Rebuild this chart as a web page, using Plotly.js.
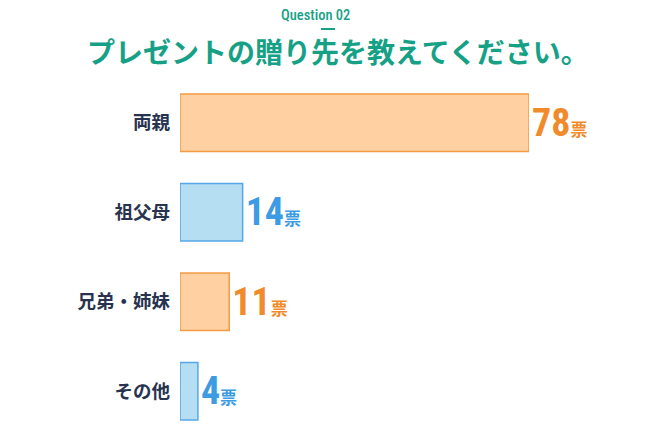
<!DOCTYPE html>
<html>
<head>
<meta charset="utf-8">
<script src="https://cdn.plot.ly/plotly-3.0.1.min.js"></script>
<style>
  html, body { margin: 0; padding: 0; background: #fff; }
  #chart { width: 660px; height: 440px; }
</style>
</head>
<body>
<div id="chart"></div>
<script>
// 贈り先ごとの票数
var categories = ['両親', '祖父母', '兄弟・姉妹', 'その他'];
var votes = [78, 14, 11, 4];
var fillColors = ['#ffd0a1', '#b6def2', '#ffd0a1', '#b6def2'];
var lineColors = ['#f39a45', '#55a8e6', '#f39a45', '#55a8e6'];
var textColors = ['#f08a2a', '#3c9be3', '#f08a2a', '#3c9be3'];

var numFont = '"Roboto Condensed", "Open Sans Condensed", sans-serif';
var jpFont = '"Noto Sans CJK JP", sans-serif';

var trace = {
  type: 'bar',
  orientation: 'h',
  y: categories,
  x: votes,
  marker: {
    color: fillColors,
    line: { color: lineColors, width: 1.5 }
  },
  texttemplate: '%{x}<span style="font-size:17px;font-family:' + "'Noto Sans CJK JP'" + ';font-weight:bold">票</span>',
  textposition: 'outside',
  cliponaxis: false,
  constraintext: 'none',
  textfont: { family: numFont, size: 38, color: textColors, weight: 'bold' },
  hoverinfo: 'none'
};

var layout = {
  width: 660,
  height: 440,
  margin: { l: 180, r: 131, t: 78, b: 4 },
  paper_bgcolor: '#ffffff',
  plot_bgcolor: '#ffffff',
  showlegend: false,
  bargap: 0.36,
  title: {
    text: 'プレゼントの贈り先を教えてください。',
    font: { family: jpFont, size: 28, color: '#16a186', weight: 'bold' },
    xref: 'container', x: 0.512, xanchor: 'center',
    yref: 'container', y: 1 - 53 / 440, yanchor: 'middle'
  },
  xaxis: {
    range: [0, 78],
    visible: false,
    fixedrange: true
  },
  yaxis: {
    autorange: 'reversed',
    showgrid: false,
    zeroline: false,
    showline: false,
    ticks: '',
    ticklabelstandoff: 9,
    tickfont: { family: jpFont, size: 18.5, color: '#28344f', weight: 'bold' },
    fixedrange: true
  },
  annotations: [{
    text: 'Question 02',
    xref: 'paper', yref: 'paper',
    x: (315 - 180) / 349, y: 1 + (78 - 15) / 358,
    xanchor: 'center', yanchor: 'middle',
    showarrow: false,
    font: { family: numFont, size: 14.5, color: '#16a186', weight: 500 }
  }],
  shapes: [{
    type: 'line',
    xref: 'paper', yref: 'paper',
    x0: (321 - 180) / 349, x1: (335 - 180) / 349,
    y0: 1 + (78 - 29) / 358, y1: 1 + (78 - 29) / 358,
    line: { color: '#16a186', width: 2 }
  }]
};

Plotly.newPlot('chart', [trace], layout, { displayModeBar: false, staticPlot: true });
</script>
</body>
</html>
